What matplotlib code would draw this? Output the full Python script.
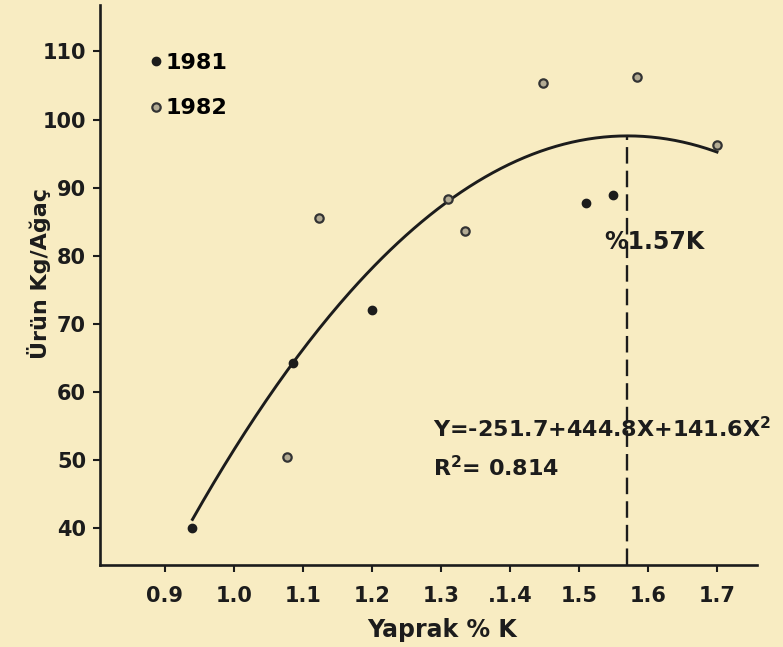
import numpy as np
import matplotlib
matplotlib.use("Agg")
import matplotlib.pyplot as plt

# 1981 (filled dots) and 1982 (open dots), leaf K % vs yield kg/tree
x_1981 = [0.94, 1.086, 1.20, 1.51, 1.55]
y_1981 = [40.1, 64.2, 72.0, 87.7, 88.9]
x_1982 = [1.077, 1.123, 1.31, 1.335, 1.448, 1.584, 1.70]
y_1982 = [50.4, 85.5, 88.3, 83.7, 105.4, 106.2, 96.2]

# quadratic fit printed on the chart: Y = a + bX + cX^2
fit_coef = [-251.7, 444.8, -141.6]
fit_range = [0.94, 1.70]
optimum_k = 1.57

xticks = [0.9, 1.0, 1.1, 1.2, 1.3, 1.4, 1.5, 1.6, 1.7]
xticklabels = ["0.9", "1.0", "1.1", "1.2", "1.3", ".1.4", "1.5", "1.6", "1.7"]
yticks = [40, 50, 60, 70, 80, 90, 100, 110]

paper = "#f8ecc2"
ink = "#1c1c1c"

plt.rcParams["font.family"] = ["DejaVu Sans"]
plt.rcParams["font.weight"] = "bold"
plt.rcParams["axes.labelweight"] = "bold"

fig = plt.figure(figsize=(7.83, 6.47), dpi=100, facecolor=paper)
ax = fig.add_axes([0.1277, 0.1267, 0.8391, 0.8653], facecolor=paper)

def fit(x):
    return fit_coef[0] + fit_coef[1] * x + fit_coef[2] * x ** 2

xs = np.linspace(fit_range[0], fit_range[1], 200)
ax.plot(xs, fit(xs), color=ink, lw=2.1, zorder=2)

ylo, yhi = 34.6, 116.8
ax.plot([optimum_k, optimum_k], [ylo, fit(optimum_k)], color=ink, lw=1.7,
        linestyle=(0, (7, 3)), zorder=2)

ax.plot(x_1981, y_1981, 'o', color=ink, ms=6, label="1981", zorder=3)
ax.plot(x_1982, y_1982, 'o', mfc="#b3ab94", mec="#333333", mew=1.6, ms=6,
        label="1982", zorder=3)

ax.set_xlim(0.806, 1.758)
ax.set_ylim(ylo, yhi)
ax.set_xticks(xticks)
ax.set_xticklabels(xticklabels)
ax.set_yticks(yticks)

for side in ["top", "right"]:
    ax.spines[side].set_visible(False)
for side in ["left", "bottom"]:
    ax.spines[side].set_linewidth(1.9)
    ax.spines[side].set_color(ink)
ax.tick_params(direction="out", length=5, width=1.5, colors=ink,
               labelsize=15)
ax.tick_params(axis="x", pad=10)
ax.tick_params(axis="y", pad=5)

ax.set_xlabel("Yaprak % K", fontsize=17, color=ink)
ax.set_ylabel("Ürün Kg/Ağaç", fontsize=16, color=ink)
ax.xaxis.set_label_coords(0.52, -0.094)
ax.yaxis.set_label_coords(-0.074, 0.52)

ax.text(1.536, 82.0, "%1.57K", fontsize=17, color=ink, va="center")
ax.text(1.288, 54.6, "Y=-251.7+444.8X+141.6X$^\\mathbf{2}$", fontsize=16,
        color=ink, va="center")
ax.text(1.288, 48.9, "R$^\\mathbf{2}$= 0.814", fontsize=16, color=ink,
        va="center")

ax.legend(loc="upper left", bbox_to_anchor=(0.077, 0.915), frameon=False,
          prop={"size": 16, "weight": "bold"}, handlelength=0.5,
          handletextpad=0.15, labelspacing=1.15, borderaxespad=0,
          borderpad=0)

fig.savefig("out.png", dpi=100, facecolor=paper)
